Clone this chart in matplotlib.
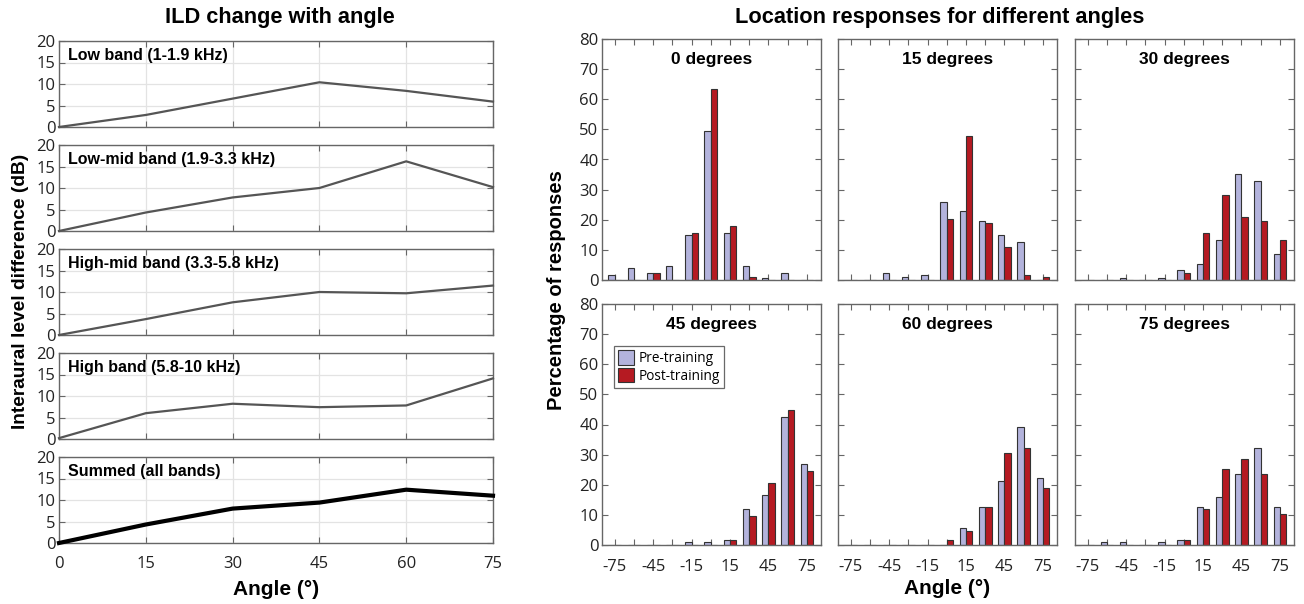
import matplotlib
matplotlib.use("Agg")
import matplotlib.pyplot as plt
import numpy as np
from matplotlib.patches import Patch

W, H = 1304, 604
fig = plt.figure(figsize=(W / 100, H / 100), dpi=100)

TICK_FONT = "Open Sans"
BOLD_FONT = "Liberation Sans"

# ---------------- data: ILD panels ----------------
ild_angles = [0, 15, 30, 45, 60, 75]
band_names = ["Low band (1-1.9 kHz)", "Low-mid band (1.9-3.3 kHz)",
              "High-mid band (3.3-5.8 kHz)", "High band (5.8-10 kHz)",
              "Summed (all bands)"]
ild_low = [0.0, 2.8, 6.6, 10.4, 8.4, 5.9]
ild_lowmid = [0.0, 4.3, 7.8, 10.0, 16.2, 10.2]
ild_highmid = [0.0, 3.7, 7.6, 10.0, 9.7, 11.5]
ild_high = [0.2, 6.0, 8.2, 7.4, 7.8, 14.1]
ild_sum = [0.0, 4.3, 8.0, 9.4, 12.4, 11.0]

# ---------------- data: response histograms ----------------
resp_bins = [-75, -60, -45, -30, -15, 0, 15, 30, 45, 60, 75]
bar_tick_labels = ["-75", "-45", "-15", "15", "45", "75"]
panel_titles = ["0 degrees", "15 degrees", "30 degrees",
                "45 degrees", "60 degrees", "75 degrees"]
pre_0 = [1.5, 3.9, 2.3, 4.6, 14.8, 49.3, 15.7, 4.6, 0.8, 2.3, 0]
post_0 = [0, 0, 2.3, 0, 15.7, 63.4, 17.9, 0.9, 0, 0, 0]
pre_15 = [0, 0, 2.3, 0.9, 1.5, 25.9, 22.8, 19.7, 14.9, 12.6, 0]
post_15 = [0, 0, 0, 0, 0, 20.4, 47.7, 18.8, 11.1, 1.5, 0.9]
pre_30 = [0, 0, 0.8, 0, 0.8, 3.2, 5.4, 13.3, 35.2, 32.9, 8.6]
post_30 = [0, 0, 0, 0, 0, 2.3, 15.7, 28.2, 21.0, 19.6, 13.3]
pre_45 = [0, 0, 0, 0, 0.9, 0.9, 1.7, 11.9, 16.6, 42.5, 26.8]
post_45 = [0, 0, 0, 0, 0, 0, 1.7, 9.5, 20.5, 44.8, 24.4]
pre_60 = [0, 0, 0, 0, 0, 0, 5.6, 12.6, 21.2, 39.3, 22.1]
post_60 = [0, 0, 0, 0, 0, 1.7, 4.8, 12.6, 30.7, 32.3, 18.9]
pre_75 = [0, 0.9, 0.9, 0, 0.9, 1.7, 12.6, 15.8, 23.6, 32.2, 12.6]
post_75 = [0, 0, 0, 0, 0, 1.7, 11.8, 25.2, 28.4, 23.6, 10.3]

PRE_COLOR = "#b3b3dc"
POST_COLOR = "#b51a22"
EDGE = "#333333"
SPINE = "#666666"


def ax_px(l, t, r, b):
    return fig.add_axes([l / W, 1 - b / H, (r - l) / W, (b - t) / H])


def style_axes(ax, size=12):
    for s in ax.spines.values():
        s.set_color(SPINE)
        s.set_linewidth(1.0)
    ax.tick_params(direction="in", top=True, right=True, length=4,
                   color=SPINE, labelsize=size, labelcolor="#222222", pad=2.5)
    for lab in ax.get_xticklabels() + ax.get_yticklabels():
        lab.set_fontfamily(TICK_FONT)


# ---------------- left: ILD panels ----------------
ild_series = [ild_low, ild_lowmid, ild_highmid, ild_high, ild_sum]
tops = [41, 145, 249, 353, 457]
for i, (name, vals, top) in enumerate(zip(band_names, ild_series, tops)):
    ax = ax_px(59, top, 493, top + 86)
    is_sum = i == len(band_names) - 1
    ax.plot(ild_angles, vals, color="black" if is_sum else "#555555",
            lw=3.0 if is_sum else 1.6, solid_joinstyle="round", clip_on=False, zorder=3)
    ax.set_xlim(0, 75)
    ax.set_ylim(0, 20)
    ax.set_xticks(ild_angles)
    ax.set_yticks([0, 5, 10, 15, 20])
    ax.grid(True, color="#e3e3e3", lw=0.9)
    ax.set_axisbelow(True)
    if not is_sum:
        ax.set_xticklabels([])
    else:
        ax.set_xticklabels([str(a) for a in ild_angles])
    style_axes(ax)
    if is_sum:
        ax.tick_params(axis="x", pad=9)
        ax.set_xlabel("Angle (°)", fontsize=15, fontweight="bold",
                      family=BOLD_FONT, labelpad=6)
    ax.text(0.021, 0.83, name, transform=ax.transAxes, fontsize=11.5,
            fontweight="bold", family=BOLD_FONT, va="center", ha="left")

fig.text(280 / W, 1 - 18 / H, "ILD change with angle", fontsize=15.7,
         fontweight="bold", family=BOLD_FONT, ha="center", va="center")
fig.text(21 / W, 1 - 291 / H, "Interaural level difference (dB)", fontsize=13.8,
         fontweight="bold", family=BOLD_FONT, ha="center", va="center", rotation=90)

# ---------------- right: response histograms ----------------
pre_all = [pre_0, pre_15, pre_30, pre_45, pre_60, pre_75]
post_all = [post_0, post_15, post_30, post_45, post_60, post_75]
col_lefts = [602, 838, 1075]
col_w = 219
row_tops = [39, 304]
row_h = 241
bw = 5.0
for k in range(6):
    r, c = divmod(k, 3)
    l = col_lefts[c]
    t = row_tops[r]
    ax = ax_px(l, t, l + col_w, t + row_h)
    x = np.array(resp_bins, dtype=float)
    ax.bar(x - bw, pre_all[k], width=bw, align="edge", color=PRE_COLOR,
           edgecolor=EDGE, linewidth=0.8, label="Pre-training", zorder=2)
    ax.bar(x, post_all[k], width=bw, align="edge", color=POST_COLOR,
           edgecolor=EDGE, linewidth=0.8, label="Post-training", zorder=2)
    ax.set_xlim(-85, 86)
    ax.set_ylim(0, 80)
    ax.set_xticks(resp_bins)
    ax.set_yticks(range(0, 81, 10))
    if r == 1:
        labs = [str(b) if str(b) in bar_tick_labels else "" for b in resp_bins]
        ax.set_xticklabels(labs)
    else:
        ax.set_xticklabels([])
    if c != 0:
        ax.set_yticklabels([])
    style_axes(ax, size=12)
    ax.tick_params(axis="x", pad=10)
    ax.text(0.5, 0.915, panel_titles[k], transform=ax.transAxes, fontsize=12.5,
            fontweight="bold", family=BOLD_FONT, ha="center", va="center")
    if k == 3:
        handles = [Patch(facecolor=PRE_COLOR, edgecolor=EDGE, lw=0.8),
                   Patch(facecolor=POST_COLOR, edgecolor=EDGE, lw=0.8)]
        leg = ax.legend(handles, ["Pre-training", "Post-training"],
                        loc="upper left", bbox_to_anchor=(0.055, 0.825),
                        prop={"family": TICK_FONT, "size": 9.8},
                        frameon=True, fancybox=False, edgecolor="#444444",
                        handlelength=1.2, handleheight=1.25, handletextpad=0.3,
                        borderpad=0.3, labelspacing=0.15, borderaxespad=0)
        leg.get_frame().set_linewidth(0.9)
    if k == 4:
        ax.set_xlabel("Angle (°)", fontsize=15, fontweight="bold",
                      family=BOLD_FONT, labelpad=3)

fig.text(940 / W, 1 - 18 / H, "Location responses for different angles", fontsize=15.7,
         fontweight="bold", family=BOLD_FONT, ha="center", va="center")
fig.text(556 / W, 1 - 290 / H, "Percentage of responses", fontsize=14.5,
         fontweight="bold", family=BOLD_FONT, ha="center", va="center", rotation=90)

fig.savefig("out.png", dpi=100)
